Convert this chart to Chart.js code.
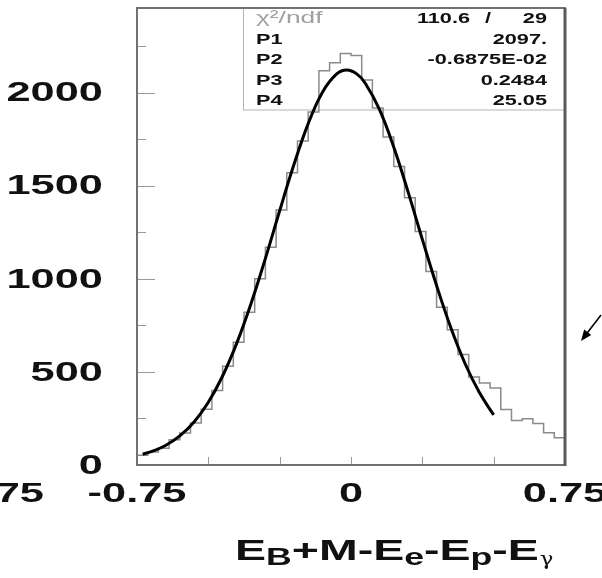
<!DOCTYPE html>
<html><head><meta charset="utf-8">
<script src="https://cdn.jsdelivr.net/npm/chart.js@4"></script>
<style>html,body{margin:0;padding:0;background:#fff;}#wrap{width:602px;height:578px;position:relative;}</style>
</head><body><div id="wrap"><canvas id="c" width="602" height="578"></canvas></div>
<script>
// ---- data ----
const binLow = -0.75;
const binWidth = 0.0375;
const histCounts = [52, 70, 90, 135, 172, 225, 300, 400, 530, 660,
                    820, 1000, 1170, 1370, 1570, 1740, 1896, 2118, 2161, 2211,
                    2200, 2068, 1918, 1762, 1603, 1435, 1254, 1040, 848, 727,
                    593, 473, 441, 414, 298, 239, 249, 223, 173, 146];
const fitX = [-0.73, -0.70, -0.65, -0.60, -0.55, -0.50, -0.45, -0.40, -0.35, -0.30,
              -0.25, -0.20, -0.15, -0.10, -0.05, -0.015, 0.02, 0.05, 0.10, 0.15, 0.20,
              0.25, 0.30, 0.35, 0.40, 0.45, 0.50];
const fitY = [58, 72, 105, 156, 231, 337, 478, 656, 869, 1110,
              1366, 1614, 1834, 2003, 2101, 2122, 2101, 2051, 1909, 1707, 1467,
              1212, 964, 737, 544, 389, 269];
const yMajorTicks = [0, 500, 1000, 1500, 2000];
const yMinorTicks = [250, 750, 1250, 1750, 2250];
const xTicks = [-0.5, -0.25, 0, 0.25, 0.5];
const xLabelValues = [-0.75, 0, 0.75];
const xLabelTexts = ["-0.75", "0", "0.75"];
const statNames = ["P1", "P2", "P3", "P4"];
const statValues = ["2097.", "-0.6875E-02", "0.2484", "25.05"];
const chi2Text = ["110.6", "/", "29"];

// ---- build histogram outline points (left edge of each bin + right end) ----
const histPoints = histCounts.map((v, i) => ({x: binLow + i * binWidth, y: v}));
histPoints.push({x: binLow + histCounts.length * binWidth, y: histCounts[histCounts.length - 1]});
const fitPoints = fitX.map((x, i) => ({x: x, y: fitY[i]}));

const SX = 1.55; // horizontal stretch of the lettering
const FONT = "'Liberation Sans', Arial, Helvetica, sans-serif";
function stext(ctx, t, x, y, align, font, color) {
  ctx.save();
  ctx.font = font;
  ctx.fillStyle = color || '#111';
  ctx.textBaseline = 'middle';
  ctx.translate(x, y);
  ctx.scale(SX, 1);
  ctx.textAlign = align;
  ctx.fillText(t, 0, 0);
  ctx.restore();
}

const deco = {
  id: 'deco',
  beforeDatasetsDraw(chart) {
    const ctx = chart.ctx, a = chart.chartArea;
    ctx.save();
    ctx.strokeStyle = '#b4b4b4';
    ctx.lineWidth = 1;
    ctx.strokeRect(243.5, a.top, a.right - 243.5, 110 - a.top);
    ctx.restore();
  },
  afterDraw(chart) {
    const ctx = chart.ctx, a = chart.chartArea;
    const xs = chart.scales.x, ys = chart.scales.y;
    ctx.save();
    // ticks inside the frame
    ctx.strokeStyle = '#9a9a9a';
    ctx.lineWidth = 1;
    ctx.beginPath();
    yMajorTicks.forEach(v => { if (v > 0) { const p = Math.round(ys.getPixelForValue(v)) + 0.5; ctx.moveTo(a.left, p); ctx.lineTo(a.left + 18, p); } });
    yMinorTicks.forEach(v => { const p = Math.round(ys.getPixelForValue(v)) + 0.5; ctx.moveTo(a.left, p); ctx.lineTo(a.left + 9, p); });
    xTicks.forEach(v => { const p = Math.round(xs.getPixelForValue(v)) + 0.5; ctx.moveTo(p, a.bottom); ctx.lineTo(p, a.bottom - 8); });
    ctx.stroke();
    // frame
    ctx.strokeStyle = '#727272';
    ctx.lineWidth = 2;
    ctx.strokeRect(a.left, a.top, a.right - a.left, a.bottom - a.top);
    ctx.strokeStyle = '#5a5a5a';
    ctx.lineWidth = 3;
    ctx.beginPath(); ctx.moveTo(a.right, a.top); ctx.lineTo(a.right, a.bottom + 1); ctx.stroke();
    ctx.restore();

    // y labels
    const yf = 'bold 28px ' + FONT;
    yMajorTicks.forEach(v => stext(ctx, String(v), 103, ys.getPixelForValue(v) + 1, 'right', yf));
    // x labels
    xLabelValues.forEach((v, i) => stext(ctx, xLabelTexts[i], xs.getPixelForValue(v), 494, 'center', yf));
    // neighbouring panel's cut label at the far left
    stext(ctx, "0.75", 44, 494, 'right', yf);

    // stats box text
    const sf = 'bold 14px ' + FONT;
    stext(ctx, "\u03C7\u00B2/ndf", 256, 18, 'left', '17px ' + FONT, '#a0a0a0');
    stext(ctx, chi2Text[0], 470, 19, 'right', sf);
    stext(ctx, chi2Text[1], 488, 19, 'center', sf);
    stext(ctx, chi2Text[2], 547, 19, 'right', sf);
    const rows = [40, 60.5, 81, 101];
    statNames.forEach((n, i) => {
      stext(ctx, n, 256, rows[i], 'left', sf);
      stext(ctx, statValues[i], 547, rows[i], 'right', sf);
    });

    // axis title E_B+M-E_e-E_p-E_gamma
    const segs = [["E", 0], ["B", 1], ["+M-E", 0], ["e", 1], ["-E", 0], ["p", 1], ["-E", 0], ["\u03B3", 2]];
    let x = 235;
    ctx.save();
    ctx.fillStyle = '#111';
    ctx.textBaseline = 'alphabetic';
    ctx.textAlign = 'left';
    segs.forEach(([t, sub]) => {
      ctx.font = sub === 2 ? '19px "DejaVu Serif", serif' : (sub ? 'bold 23px ' + FONT : 'bold 30px ' + FONT);
      const sx = sub === 2 ? 1.2 : SX;
      const w = ctx.measureText(t).width * sx;
      ctx.save();
      ctx.translate(x + (sub === 2 ? 1 : 0), sub ? 565 : 560);
      ctx.scale(sx, 1);
      ctx.fillText(t, 0, 0);
      ctx.restore();
      x += w;
    });
    ctx.restore();

    // arrow
    ctx.save();
    ctx.strokeStyle = '#000';
    ctx.fillStyle = '#000';
    ctx.lineWidth = 1.6;
    const tx = 581, ty = 341, fx = 601, fy = 315;
    const ang = Math.atan2(ty - fy, tx - fx);
    ctx.beginPath(); ctx.moveTo(fx, fy); ctx.lineTo(tx - 6 * Math.cos(ang), ty - 6 * Math.sin(ang)); ctx.stroke();
    ctx.beginPath();
    ctx.moveTo(tx, ty);
    ctx.lineTo(tx - 11 * Math.cos(ang) + 4.5 * Math.sin(ang), ty - 11 * Math.sin(ang) - 4.5 * Math.cos(ang));
    ctx.lineTo(tx - 11 * Math.cos(ang) - 4.5 * Math.sin(ang), ty - 11 * Math.sin(ang) + 4.5 * Math.cos(ang));
    ctx.closePath(); ctx.fill();
    ctx.restore();
  }
};

new Chart(document.getElementById('c'), {
  type: 'line',
  data: {
    datasets: [
      {label: 'fit', data: fitPoints, borderColor: '#000', borderWidth: 3, pointRadius: 0,
       fill: false, tension: 0.4, order: 1},
      {label: 'hist', data: histPoints, borderColor: '#8a8a8a', borderWidth: 1.5, pointRadius: 0,
       fill: false, stepped: 'before', order: 2}
    ]
  },
  options: {
    responsive: false,
    animation: false,
    devicePixelRatio: 1,
    layout: {padding: {left: 137, right: 37, top: 8, bottom: 113}},
    scales: {
      x: {type: 'linear', min: -0.75, max: 0.75, display: false},
      y: {type: 'linear', min: 0, max: 2455, display: false}
    },
    plugins: {legend: {display: false}, tooltip: {enabled: false}}
  },
  plugins: [deco]
});
</script></body></html>
